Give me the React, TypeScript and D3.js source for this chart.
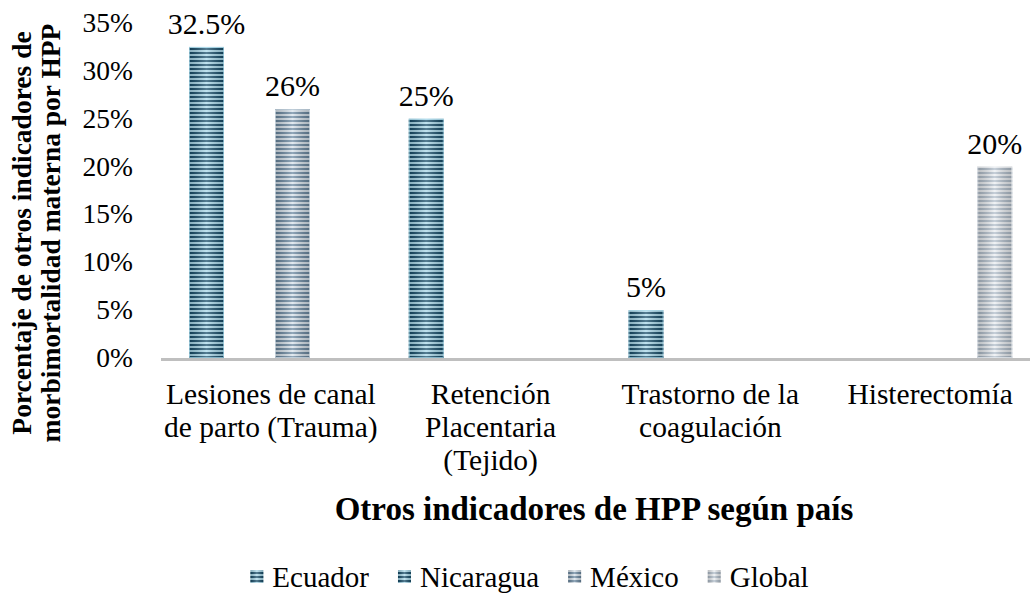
import React from "react";
import * as d3 from "d3";

const categories: string[][] = [
  ["Lesiones de canal", "de parto (Trauma)"],
  ["Retención", "Placentaria", "(Tejido)"],
  ["Trastorno de la", "coagulación"],
  ["Histerectomía"],
];
const seriesNames = ["Ecuador", "Nicaragua", "México", "Global"];
const ecuador: (number | null)[] = [32.5, 25, 5, null];
const nicaragua: (number | null)[] = [null, null, null, null];
const mexico: (number | null)[] = [26, null, null, null];
const global: (number | null)[] = [null, null, null, 20];
const yTicks = [0, 5, 10, 15, 20, 25, 30, 35];

const seriesValues = [ecuador, nicaragua, mexico, global];
const palette = [
  { dark: "#154c69", light: "#a8d8ea" },
  { dark: "#154c69", light: "#a8d8ea" },
  { dark: "#68869f", light: "#d6e1ea" },
  { dark: "#b0bdca", light: "#eaeef2" },
];

const W = 1030;
const H = 593;
const FONT = "'Liberation Serif', 'Times New Roman', serif";

function textWidth(t: string, font: string): number {
  const c = document.createElement("canvas").getContext("2d");
  if (!c) return t.length * 14;
  c.font = font;
  return c.measureText(t).width;
}

export default function App() {
  const plotLeft = 161;
  const plotRight = 1040;
  const y = d3.scaleLinear().domain([0, 35]).range([358, 23]);
  const x0 = d3
    .scaleBand<number>()
    .domain(categories.map((_, i) => i))
    .range([plotLeft, plotRight]);
  const x1 = d3
    .scaleBand<number>()
    .domain(seriesNames.map((_, i) => i))
    .range([28, 192])
    .paddingInner(8 / 43);

  const legendSize = 29;
  const legendFont = `${legendSize}px ${FONT}`;
  const marker = 13;
  const textOffset = 22;
  const itemGap = 29;
  const widths = seriesNames.map((s) => textOffset + textWidth(s, legendFont));
  const total = d3.sum(widths) + itemGap * (seriesNames.length - 1);
  let lx = 529.5 - total / 2;
  const legendX = widths.map((w) => {
    const v = lx;
    lx += w + itemGap;
    return v;
  });

  return (
    <svg width={W} height={H} style={{ position: "absolute", left: 0, top: 0, background: "#fff" }}>
      <defs>
        {palette.map((p, i) => (
          <pattern
            key={i}
            id={`stripe${i}`}
            patternUnits="userSpaceOnUse"
            width={4}
            height={4}
          >
            <rect width={4} height={4} fill={p.light} />
            <rect width={4} height={2} fill={p.dark} />
          </pattern>
        ))}
        <linearGradient id="shade" x1="0" x2="1" y1="0" y2="0">
          <stop offset="0" stopColor="#000" stopOpacity={0.2} />
          <stop offset="0.5" stopColor="#fff" stopOpacity={0.28} />
          <stop offset="1" stopColor="#000" stopOpacity={0.2} />
        </linearGradient>
      </defs>

      {/* y tick labels */}
      {yTicks.map((t) => (
        <text
          key={t}
          x={133}
          y={y(t) + 9}
          textAnchor="end"
          fontFamily={FONT}
          fontSize={27.5}
          fill="#000"
        >
          {t}%
        </text>
      ))}

      {/* bars */}
      {seriesValues.map((vals, si) =>
        vals.map((v, ci) => {
          if (v === null) return null;
          const bx = (x0(ci) as number) + (x1(si) as number);
          const bw = x1.bandwidth();
          const top = y(v);
          const h = y(0) - top;
          return (
            <g key={`${si}-${ci}`}>
              <rect x={bx} y={top} width={bw} height={h} fill={`url(#stripe${si})`} />
              <rect x={bx} y={top} width={bw} height={h} fill="url(#shade)" />
              <rect
                x={bx + 0.5}
                y={top + 0.5}
                width={bw - 1}
                height={h - 1}
                fill="none"
                stroke={palette[si].light}
                strokeOpacity={0.7}
                strokeWidth={1}
              />
              <text
                x={bx + bw / 2}
                y={top - 13}
                textAnchor="middle"
                fontFamily={FONT}
                fontSize={30}
                fill="#000"
              >
                {v}%
              </text>
            </g>
          );
        })
      )}

      {/* x axis line */}
      <line x1={plotLeft} x2={W} y1={359.5} y2={359.5} stroke="#bfbfbf" strokeWidth={3} />

      {/* category labels */}
      {categories.map((lines, ci) => (
        <text
          key={ci}
          x={(x0(ci) as number) + x0.bandwidth() / 2}
          y={404}
          textAnchor="middle"
          fontFamily={FONT}
          fontSize={29.5}
          fill="#000"
        >
          {lines.map((l, li) => (
            <tspan key={li} x={(x0(ci) as number) + x0.bandwidth() / 2} dy={li === 0 ? 0 : 33}>
              {l}
            </tspan>
          ))}
        </text>
      ))}

      {/* x title */}
      <text
        x={594}
        y={520}
        textAnchor="middle"
        fontFamily={FONT}
        fontSize={33}
        fontWeight="bold"
        fill="#000"
      >
        Otros indicadores de HPP según país
      </text>

      {/* y title */}
      <g transform="translate(31,233) rotate(-90)">
        <text textAnchor="middle" fontFamily={FONT} fontSize={27.5} fontWeight="bold" fill="#000">
          Porcentaje de otros indicadores de
        </text>
        <text y={29} textAnchor="middle" fontFamily={FONT} fontSize={27.5} fontWeight="bold" fill="#000">
          morbimortalidad materna por HPP
        </text>
      </g>

      {/* legend */}
      {seriesNames.map((s, i) => (
        <g key={s} transform={`translate(${legendX[i]},0)`}>
          <rect x={0} y={570} width={marker} height={13} fill={`url(#stripe${i})`} />
          <rect x={0} y={570} width={marker} height={13} fill="url(#shade)" />
          <text x={textOffset} y={587} fontFamily={FONT} fontSize={legendSize} fill="#000">
            {s}
          </text>
        </g>
      ))}
    </svg>
  );
}
